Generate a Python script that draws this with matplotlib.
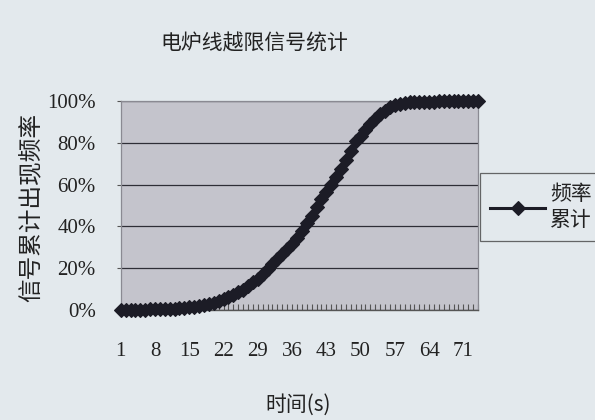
import matplotlib
matplotlib.use("Agg")
import matplotlib.pyplot as plt
from matplotlib.ticker import FixedLocator, NullFormatter

# Cumulative frequency of over-limit signals, one value per second (percent)
seconds = list(range(1, 75))
cum_freq = [
    0.0, 0.0, 0.1, 0.1, 0.2, 0.2, 0.3, 0.3, 0.4, 0.5,
    0.6, 0.7, 0.8, 1.0, 1.2, 1.5, 1.9, 2.3, 2.8, 3.4,
    4.2, 5.1, 6.3, 7.4, 8.5, 9.6, 11.4, 13.2, 15.0, 17.2,
    19.6, 22.0, 24.4, 26.6, 29.0, 31.6, 34.5, 37.6, 41.8, 45.2,
    49.5, 53.0, 56.3, 59.8, 63.7, 67.4, 71.6, 76.0, 80.7, 83.3,
    86.2, 88.9, 91.3, 93.6, 95.4, 96.9, 97.9, 98.6, 99.0, 99.3,
    99.5, 99.6, 99.6, 99.7, 99.7, 99.8, 99.8, 99.8, 99.9, 99.9,
    99.9, 100.0, 100.0, 100.0,
]
x_tick_labels = ["1", "8", "15", "22", "29", "36", "43", "50", "57", "64", "71"]
y_ticks = [0, 20, 40, 60, 80, 100]
y_tick_labels = ["0%", "20%", "40%", "60%", "80%", "100%"]

title = "电炉线越限信号统计"
x_label = "时间(s)"
y_label = "信号累计出现频率"
series_label = "频率\n累计"

serif = ["Liberation Serif", "Noto Sans CJK SC"]
cjk = ["Noto Sans CJK SC", "DejaVu Sans"]

bg = "#e3e9ed"
plot_bg = "#c4c4cc"
ink = "#1c1c26"

fig = plt.figure(figsize=(5.95, 4.2), dpi=100, facecolor=bg)
ax = fig.add_axes([0.2029, 0.2619, 0.6005, 0.4976], facecolor=plot_bg)

ax.plot(seconds, cum_freq, color=ink, linewidth=2.2, marker="D",
        markersize=7, markeredgewidth=0.8, markerfacecolor=ink,
        markeredgecolor=ink, label=series_label, clip_on=False, zorder=3)

ax.set_xlim(seconds[0], seconds[-1])
ax.set_ylim(0, 100)

# every second gets a small tick; labels every 7 s
label_pos = [int(s) for s in x_tick_labels]
ax.xaxis.set_major_locator(FixedLocator(label_pos))
ax.set_xticklabels(x_tick_labels, fontfamily=serif, fontsize=15, color="#222222")
ax.xaxis.set_minor_locator(FixedLocator(seconds))
ax.xaxis.set_minor_formatter(NullFormatter())
ax.tick_params(axis="x", which="both", direction="in", length=4, width=0.8,
               color="#555555", pad=23)

ax.set_yticks(y_ticks)
ax.set_yticklabels(y_tick_labels, fontfamily=serif, fontsize=15, color="#222222")
ax.tick_params(axis="y", direction="out", length=3, width=0.8, color="#555555", pad=15)

ax.grid(axis="y", color="#2e2e36", linewidth=0.9)
ax.set_axisbelow(True)

for side in ("top", "right", "left"):
    ax.spines[side].set_color("#8a8a92")
    ax.spines[side].set_linewidth(0.9)
ax.spines["bottom"].set_color("#555555")
ax.spines["bottom"].set_linewidth(1.0)

fig.text(254 / 595, 1 - 44 / 420, title, ha="center", va="center",
         fontfamily=cjk, fontsize=15, color="#222222")
fig.text(298 / 595, 1 - 405 / 420, x_label, ha="center", va="center",
         fontfamily=cjk, fontsize=15, color="#222222")
fig.text(32 / 595, 1 - 207 / 420, y_label, ha="center", va="center",
         rotation=90, fontfamily=cjk, fontsize=17, color="#222222")

leg = ax.legend(loc="upper left", bbox_to_anchor=(480 / 595, 1 - 173 / 420),
                bbox_transform=fig.transFigure, frameon=True, fancybox=False,
                prop={"family": cjk, "size": 15}, handlelength=2.6,
                borderpad=0.5, handletextpad=0.25, borderaxespad=0,
                labelspacing=0.2)
leg.get_frame().set_edgecolor("#444444")
leg.get_frame().set_linewidth(0.9)
leg.get_frame().set_facecolor(bg)
for t in leg.get_texts():
    t.set_color("#222222")

fig.savefig("out.png", dpi=100, facecolor=bg)
